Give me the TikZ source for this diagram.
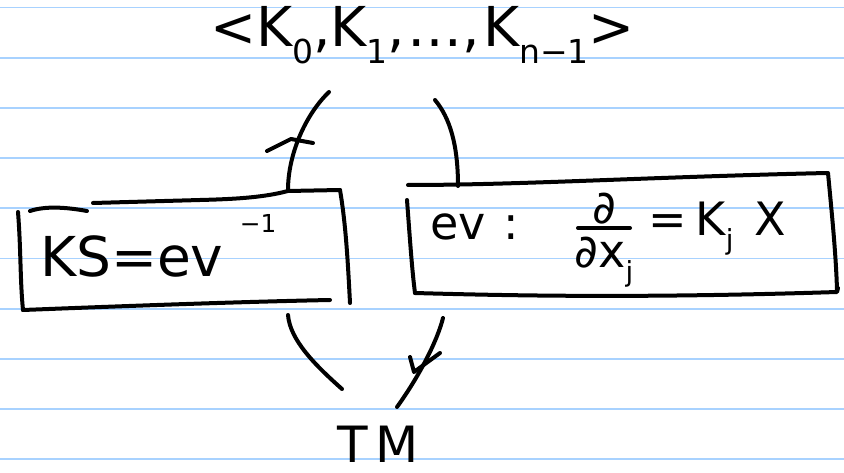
\documentclass[tikz,border=0pt]{standalone}
\usepackage{fontspec}
\setmainfont{DejaVu Sans}
\definecolor{rulecol}{RGB}{168,210,255}
% lowered / raised small text for indices
\newcommand\lo[1]{\raisebox{-0.3em}{\scalebox{0.6}{#1}}}
\newcommand\hi[1]{\raisebox{0.8em}{\scalebox{0.45}{#1}}}
\begin{document}
\begin{tikzpicture}[x=1pt,y=-1pt,
  rule/.style={draw=rulecol,line width=1.8pt},
  pen/.style={line width=4pt,line cap=round,line join=round},
  hand/.style={inner sep=0pt,outer sep=0pt,font=\fontsize{55}{60}\selectfont},
  handsm/.style={inner sep=0pt,outer sep=0pt,font=\fontsize{46}{50}\selectfont}]
\useasboundingbox (0,0) rectangle (844,473);
\fill[white] (0,0) rectangle (844,473);
% ruled paper
\foreach \k in {0,...,9} \draw[rule] (0,{7.5+50.2*\k}) -- (844,{7.5+50.2*\k});

% texts
\node[hand,anchor=base west] (gens) at (210,47) {<K\lo{0},K\lo{1},\hspace{0.05em}…,\hspace{0.05em}K\lo{n−1}>};
\node[hand,anchor=base west] (ks) at (40,277) {KS=ev\hspace{0.3em}\hi{−1}};
\node[handsm,anchor=base west] (ev) at (430,240) {ev\hspace{0.4em}:};
\node[handsm,anchor=base] (num) at (604,224) {∂};
\node[handsm,anchor=base] (den) at (604,268) {∂x\lo{j}};
\node[handsm,anchor=base west] (rhs) at (648,236) {=\hspace{0.2em}K\lo{j}\hspace{0.45em}X};
\node[font=\fontsize{50}{54}\selectfont,inner sep=0pt,outer sep=0pt,anchor=base] (tm) at (378,462) {T\hspace{0.15em}M};

% fraction bar
\draw[pen] (578,228) -- (630,228);

% left box
\draw[pen] (30,211) .. controls (45,206) and (65,207) .. (87,211);
\draw[pen] (93,203) -- (200,200) .. controls (240,199) and (265,197) .. (288,191) -- (340,190);
\draw[pen] (18,212) .. controls (21,250) and (20,280) .. (23,310);
\draw[pen] (23,310) .. controls (100,307) and (230,302) .. (330,300);
\draw[pen] (340,190) .. controls (346,225) and (348,265) .. (350,303);

% right box
\draw[pen] (408,185) .. controls (520,185) and (650,177) .. (827,173);
\draw[pen] (407,200) .. controls (410,240) and (412,270) .. (415,293);
\draw[pen] (415,293) .. controls (520,296) and (650,298) .. (837,292) -- (838,288);
\draw[pen] (828,173) .. controls (832,215) and (836,255) .. (837,290);

% connectors
\coordinate (ulA) at (329,92);  \coordinate (ulB) at (288,190);
\coordinate (urA) at (435,100); \coordinate (urB) at (458,186);
\coordinate (llA) at (288,315); \coordinate (llB) at (342,389);
\coordinate (lrA) at (443,318); \coordinate (lrB) at (397,407);
\draw[pen] (ulA) .. controls (305,115) and (288,155) .. (ulB);
\draw[pen] (267,151) -- (291,139) -- (313,143);
\draw[pen] (urA) .. controls (450,118) and (458,145) .. (urB);
\draw[pen] (llA) .. controls (290,340) and (315,365) .. (llB);
\draw[pen] (lrA) .. controls (437,342) and (418,378) .. (lrB);
\draw[pen] (410,357) -- (414,372) -- (440,353);
\end{tikzpicture}
\end{document}
